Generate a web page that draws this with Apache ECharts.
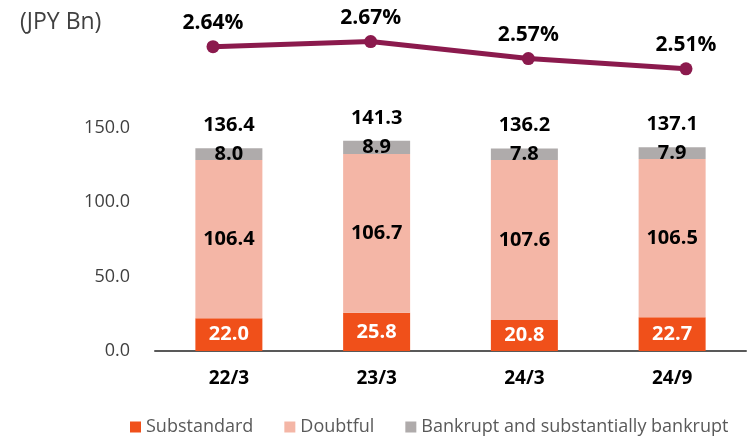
<!DOCTYPE html>
<html>
<head>
<meta charset="utf-8">
<script src="https://cdn.jsdelivr.net/npm/echarts@6/dist/echarts.min.js"></script>
<style>
  html, body { margin: 0; padding: 0; background: #fff; }
  #chart { width: 748px; height: 436px; }
</style>
</head>
<body>
<div id="chart"></div>
<script>
// data
var categories = ['22/3', '23/3', '24/3', '24/9'];
var substandard = [22.0, 25.8, 20.8, 22.7];
var doubtful = [106.4, 106.7, 107.6, 106.5];
var bankrupt = [8.0, 8.9, 7.8, 7.9];
var totals = [136.4, 141.3, 136.2, 137.1];
var ratio = [2.64, 2.67, 2.57, 2.51];

var FONT = '"Open Sans", sans-serif';

var chart = echarts.init(document.getElementById('chart'));

function inside(color) {
    return {
        show: true,
        position: 'inside',
        color: color,
        fontFamily: FONT,
        fontWeight: 'bold',
        fontSize: 20,
        formatter: function (p) { return p.value.toFixed(1); }
    };
}

var option = {
    animation: false,
    graphic: [{
        type: 'text',
        left: 20,
        top: 11,
        style: { text: '(JPY Bn)', fill: '#404040', font: '23px ' + FONT }
    }],
    legend: {
        data: ['Substandard', 'Doubtful', 'Bankrupt and substantially bankrupt'],
        left: 125,
        top: 413,
        itemWidth: 11,
        itemHeight: 11,
        itemGap: 31,
        icon: 'rect',
        textStyle: { color: '#595959', fontFamily: FONT, fontSize: 18 }
    },
    grid: [
        { left: 155, right: 2, top: 128, bottom: 85 },
        { left: 213, right: 62, top: 19.5, bottom: 348.5 }
    ],
    xAxis: [{
        type: 'category',
        gridIndex: 0,
        data: categories,
        axisLine: { lineStyle: { color: '#595959', width: 2 } },
        axisTick: { show: false },
        axisLabel: { color: '#000', fontFamily: FONT, fontWeight: 'bold', fontSize: 19, margin: 18 }
    }, {
        type: 'category',
        gridIndex: 1,
        data: categories,
        boundaryGap: false,
        show: false
    }],
    yAxis: [{
        type: 'value',
        gridIndex: 0,
        min: 0,
        max: 150,
        interval: 50,
        splitLine: { show: false },
        axisLine: { show: false },
        axisTick: { show: false },
        axisLabel: {
            color: '#404040', fontFamily: FONT, fontSize: 18, margin: 25,
            formatter: function (v) { return v.toFixed(1); }
        }
    }, {
        type: 'value',
        gridIndex: 1,
        min: 2.4,
        max: 2.8,
        show: false,
        splitLine: { show: false }
    }],
    series: [{
        name: 'Substandard',
        type: 'bar',
        stack: 'npl',
        barWidth: 67,
        data: substandard,
        itemStyle: { color: '#F0501A' },
        label: inside('#fff')
    }, {
        name: 'Doubtful',
        type: 'bar',
        stack: 'npl',
        data: doubtful,
        itemStyle: { color: '#F4B6A6' },
        label: inside('#000')
    }, {
        name: 'Bankrupt and substantially bankrupt',
        type: 'bar',
        stack: 'npl',
        data: bankrupt,
        itemStyle: { color: '#AFABAB' },
        label: inside('#000')
    }, {
        name: 'total',
        type: 'scatter',
        data: totals,
        symbolSize: 0,
        silent: true,
        itemStyle: { opacity: 1 },
        label: {
            show: true,
            position: 'top',
            distance: 13,
            color: '#000',
            fontFamily: FONT,
            fontWeight: 'bold',
            fontSize: 20,
            formatter: function (p) { return p.value.toFixed(1); }
        }
    }, {
        name: 'ratio',
        type: 'line',
        xAxisIndex: 1,
        yAxisIndex: 1,
        data: ratio,
        symbol: 'circle',
        symbolSize: 13,
        clip: false,
        lineStyle: { color: '#8B1A4D', width: 5 },
        itemStyle: { color: '#8B1A4D' },
        label: {
            show: true,
            position: 'top',
            distance: 7,
            color: '#000',
            fontFamily: FONT,
            fontWeight: 'bold',
            fontSize: 21,
            formatter: function (p) { return p.value.toFixed(2) + '%'; }
        }
    }]
};

chart.setOption(option);
</script>
</body>
</html>
